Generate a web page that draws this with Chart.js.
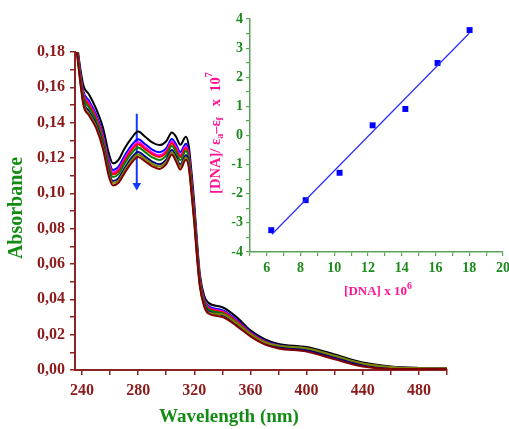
<!DOCTYPE html>
<html><head><meta charset="utf-8">
<script src="https://cdn.jsdelivr.net/npm/chart.js@4.4.0/dist/chart.umd.min.js"></script>
<style>
html,body{margin:0;padding:0;background:#fff;}
#wrap{position:relative;width:509px;height:429px;}
canvas{position:absolute;left:0;top:0;}
</style></head><body>
<div id="wrap"><canvas id="main" width="509" height="429"></canvas><canvas id="inset" width="509" height="429"></canvas></div>
<script>
// ---- main spectra data ----
const wavelengths = [235,238,241,245,250,255,259,262,266,270,275,280,285,290,295,300,304,307,310,314,316,318,320,322,324,327,330,340,350,360,370,380,400,420,440,460,480,500];
const absBlack   = [0.195,0.175,0.161,0.156,0.148,0.137,0.123,0.117,0.119,0.125,0.131,0.135,0.132,0.1288,0.1273,0.1295,0.1345,0.132,0.1275,0.132,0.127,0.112,0.094,0.072,0.054,0.042,0.038,0.0355,0.030,0.0225,0.0175,0.0148,0.0130,0.0088,0.0042,0.0020,0.0012,0.0010];
const absBlue    = [0.1935,0.173,0.1577,0.1524,0.1447,0.1334,0.1191,0.1132,0.1151,0.1208,0.1268,0.1306,0.1278,0.1248,0.1233,0.1256,0.1308,0.1278,0.1233,0.1281,0.1234,0.1084,0.0907,0.0693,0.0519,0.0402,0.0362,0.0339,0.0285,0.0215,0.0166,0.014,0.0122,0.008,0.0035,0.0016,0.001,0.0009];
const absMagenta = [0.193,0.172,0.1564,0.151,0.1434,0.132,0.1175,0.1118,0.1135,0.1191,0.1251,0.1289,0.1261,0.1231,0.1216,0.124,0.1293,0.1261,0.1216,0.1265,0.122,0.107,0.0894,0.0682,0.0511,0.0395,0.0355,0.0332,0.0279,0.021,0.0162,0.0137,0.0116,0.0073,0.003,0.0012,0.0008,0.0008];
const absRed     = [0.1925,0.1715,0.1555,0.150,0.1425,0.131,0.1165,0.1108,0.1125,0.118,0.124,0.1278,0.125,0.1221,0.1206,0.123,0.1283,0.125,0.1205,0.1255,0.121,0.106,0.0885,0.0675,0.0505,0.039,0.035,0.0328,0.0275,0.0208,0.016,0.0134,0.0113,0.0070,0.0027,0.001,0.0007,0.0007];
const absGreen   = [0.192,0.171,0.1542,0.1486,0.1412,0.1296,0.1149,0.1093,0.1109,0.1163,0.1223,0.126,0.1233,0.1204,0.1189,0.1214,0.1268,0.1233,0.1188,0.1239,0.1196,0.1046,0.0872,0.0664,0.0497,0.0383,0.0343,0.0321,0.0269,0.0205,0.0158,0.0136,0.0121,0.0079,0.0035,0.0014,0.0009,0.0008];
const absNavy    = [0.191,0.1695,0.1522,0.1464,0.1392,0.1274,0.1126,0.107,0.1086,0.1138,0.1198,0.1234,0.1208,0.118,0.1165,0.1191,0.1245,0.1208,0.1163,0.1216,0.1174,0.1024,0.0852,0.0648,0.0484,0.0372,0.0332,0.0311,0.026,0.0197,0.0151,0.0128,0.0112,0.0069,0.0026,0.0009,0.0006,0.0006];
const absOlive   = [0.1905,0.169,0.1511,0.1452,0.1381,0.1262,0.1113,0.1058,0.1073,0.1124,0.1184,0.122,0.1194,0.1167,0.1152,0.1178,0.1233,0.1194,0.1149,0.1203,0.1162,0.1012,0.0841,0.0639,0.0477,0.0366,0.0326,0.0315,0.0265,0.0202,0.0157,0.0138,0.0123,0.0081,0.0037,0.0017,0.001,0.0008];
const absDarkRed = [0.190,0.168,0.150,0.144,0.137,0.125,0.110,0.1045,0.106,0.111,0.117,0.1205,0.118,0.1153,0.1138,0.1165,0.122,0.118,0.1135,0.119,0.115,0.100,0.083,0.063,0.047,0.036,0.032,0.030,0.025,0.019,0.0145,0.0122,0.0104,0.0060,0.0020,0.0006,0.0005,0.0005];
const arrowWl = 279;
const arrowAbs = [0.145, 0.1045];

const mainXTicks = [240,260,280,300,320,340,360,380,400,420,440,460,480,500];
const mainXLabels = {240:'240',280:'280',320:'320',360:'360',400:'400',440:'440',480:'480'};
const mainYTicks = [0,0.01,0.02,0.03,0.04,0.05,0.06,0.07,0.08,0.09,0.10,0.11,0.12,0.13,0.14,0.15,0.16,0.17,0.18];
const mainYLabels = ['0,00','0,02','0,04','0,06','0,08','0,10','0,12','0,14','0,16','0,18'];

// ---- inset data ----
const dnaConc = [6.26, 8.30, 10.31, 12.27, 14.21, 16.12, 18.02];
const dnaRatio = [-3.25, -2.22, -1.28, 0.35, 0.91, 2.49, 3.62];
const fitConc = [6.3, 18.0];
const fitRatio = [-3.39, 3.51];
const insetXTicks = [5,6,7,8,9,10,11,12,13,14,15,16,17,18,19,20];
const insetYTicks = [-4,-3.5,-3,-2.5,-2,-1.5,-1,-0.5,0,0.5,1,1.5,2,2.5,3,3.5,4];

const SERIF = '"Liberation Serif","Times New Roman",serif';
const pts = (xs, ys) => xs.map((x, i) => ({x, y: ys[i]}));

function drawRich(ctx, segs, cx, cy, angle, color) {
  ctx.save();
  ctx.translate(cx, cy);
  ctx.rotate(angle);
  ctx.fillStyle = color;
  ctx.textBaseline = 'middle';
  ctx.textAlign = 'left';
  let total = 0;
  segs.forEach(s => { ctx.font = `bold ${s.size}px ${SERIF}`; s.w = ctx.measureText(s.t).width; total += s.w; });
  let x = -total / 2;
  segs.forEach(s => { ctx.font = `bold ${s.size}px ${SERIF}`; ctx.fillText(s.t, x, s.dy || 0); x += s.w; });
  ctx.restore();
}

const spec = (label, data, color) => ({
  label, data: pts(wavelengths, data), borderColor: color, backgroundColor: color,
  borderWidth: 2, pointRadius: 0, cubicInterpolationMode: 'monotone', fill: false
});

const mainTitles = {
  id: 'mainTitles',
  afterDraw(chart) {
    const ctx = chart.ctx;
    drawRich(ctx, [{t: 'Absorbance', size: 20}], 17, 208, -Math.PI / 2, '#148c14');
    drawRich(ctx, [{t: 'Wavelength (nm)', size: 19}], 229, 417, 0, '#148c14');
  }
};

new Chart(document.getElementById('main'), {
  type: 'line',
  data: {
    datasets: [
      spec('8', absDarkRed, '#800000'),
      spec('7', absOlive, '#808000'),
      spec('6', absNavy, '#000080'),
      spec('5', absGreen, '#008000'),
      spec('4', absRed, '#ff0000'),
      spec('3', absMagenta, '#ff00ff'),
      spec('2', absBlue, '#0000ff'),
      spec('1', absBlack, '#000000'),
      {
        label: 'arrow', data: pts([arrowWl, arrowWl], arrowAbs),
        borderColor: '#1438ff', backgroundColor: '#1438ff', borderWidth: 2,
        pointRadius: [0, 5], pointStyle: 'triangle', rotation: 180, pointBorderWidth: 0
      }
    ]
  },
  options: {
    responsive: false, animation: false,
    plugins: {legend: {display: false}, tooltip: {enabled: false}},
    layout: {padding: {left: 0, top: 52, right: 62, bottom: 0}},
    scales: {
      x: {
        type: 'linear', min: 235, max: 500,
        afterBuildTicks: s => { s.ticks = mainXTicks.map(v => ({value: v})); },
        afterFit: s => { s.height = 59; s.paddingLeft = 0; s.paddingRight = 0; },
        ticks: {
          autoSkip: false, maxRotation: 0, padding: 6, color: '#8b1a1a',
          font: {family: SERIF, weight: 'bold', size: 16},
          callback: v => mainXLabels[v] || ''
        },
        grid: {drawOnChartArea: false, tickLength: 5, color: '#8b2424', lineWidth: 1.5},
        border: {color: '#8b2424', width: 2}
      },
      y: {
        type: 'linear', min: 0, max: 0.18,
        afterBuildTicks: s => { s.ticks = mainYTicks.map(v => ({value: v})); },
        afterFit: s => { s.width = 75; s.paddingTop = 0; s.paddingBottom = 0; },
        ticks: {
          autoSkip: false, padding: 5, color: '#8b1a1a',
          font: {family: SERIF, weight: 'bold', size: 16},
          callback: v => { const k = Math.round(v * 100); return k % 2 === 0 ? mainYLabels[k / 2] : ''; }
        },
        grid: {drawOnChartArea: false, tickLength: 5, color: '#8b2424', lineWidth: 1.5},
        border: {color: '#8b2424', width: 2}
      }
    }
  },
  plugins: [mainTitles]
});

const insetTitles = {
  id: 'insetTitles',
  afterDraw(chart) {
    const ctx = chart.ctx;
    const pink = '#ff1493';
    drawRich(ctx, [
      {t: '[DNA] x 10', size: 13},
      {t: '6', size: 10, dy: -6}
    ], 378, 292, 0, pink);
    drawRich(ctx, [
      {t: '[DNA]/ ε', size: 14.5},
      {t: 'a', size: 10, dy: 4},
      {t: '–ε', size: 14.5},
      {t: 'f', size: 10, dy: 4},
      {t: '   x  10', size: 14.5},
      {t: '7', size: 10, dy: -7}
    ], 216, 133, -Math.PI / 2, pink);
  }
};

new Chart(document.getElementById('inset'), {
  type: 'scatter',
  data: {
    datasets: [
      {
        label: 'fit', type: 'line', data: pts(fitConc, fitRatio),
        borderColor: '#2a2aff', borderWidth: 1.2, pointRadius: 0, fill: false
      },
      {
        label: 'points', data: pts(dnaConc, dnaRatio),
        backgroundColor: '#0000ff', borderColor: '#0000ff',
        pointStyle: 'rect', pointRadius: 4.2, borderWidth: 0
      }
    ]
  },
  options: {
    responsive: false, animation: false,
    plugins: {legend: {display: false}, tooltip: {enabled: false}},
    layout: {padding: {left: 0, top: 19, right: 6, bottom: 0}},
    scales: {
      x: {
        type: 'linear', min: 5, max: 20,
        afterBuildTicks: s => { s.ticks = insetXTicks.map(v => ({value: v})); },
        afterFit: s => { s.height = 177; s.paddingLeft = 0; s.paddingRight = 0; },
        ticks: {
          autoSkip: false, maxRotation: 0, padding: 4, color: '#1c8a1c',
          font: {family: SERIF, weight: 'bold', size: 14},
          callback: v => (v % 2 === 0 ? String(v) : '')
        },
        grid: {drawOnChartArea: false, tickLength: 4, color: '#5aa35a', lineWidth: 1.2},
        border: {color: '#5aa35a', width: 1.5}
      },
      y: {
        type: 'linear', min: -4, max: 4,
        afterBuildTicks: s => { s.ticks = insetYTicks.map(v => ({value: v})); },
        afterFit: s => { s.width = 250; s.paddingTop = 0; s.paddingBottom = 0; },
        ticks: {
          autoSkip: false, padding: 3, color: '#1c8a1c',
          font: {family: SERIF, weight: 'bold', size: 14},
          callback: v => (Number.isInteger(v) ? String(v) : '')
        },
        grid: {drawOnChartArea: false, tickLength: 4, color: '#5aa35a', lineWidth: 1.2},
        border: {color: '#5aa35a', width: 1.5}
      }
    }
  },
  plugins: [insetTitles]
});
</script>
</body></html>
